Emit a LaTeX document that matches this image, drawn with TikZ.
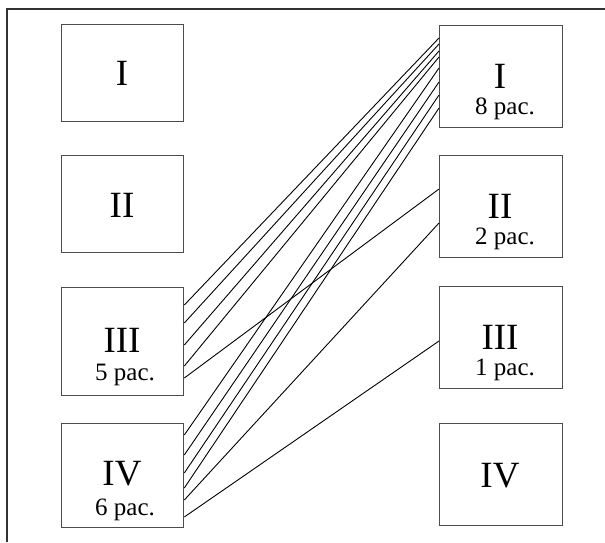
\documentclass[tikz,border=0pt]{standalone}
\usepackage{fontspec}
\setmainfont{Liberation Serif}
\begin{document}
\begin{tikzpicture}[x=1pt,y=-1pt,
  box/.style={draw=black!70,line width=1.3pt,inner sep=0pt,anchor=north west},
  num/.style={inner sep=0pt,anchor=base,font=\fontsize{37}{37}\selectfont},
  pac/.style={inner sep=0pt,anchor=base,font=\fontsize{25}{25}\selectfont},
  link/.style={draw=black,line width=0.9pt},
  frame/.style={draw=black!80,line width=1.4pt}]
\useasboundingbox (0,0) rectangle (605,542);
% frame
\coordinate (fa) at (7,542);
\coordinate (fb) at (7,9);
\coordinate (fc) at (605,9);
\draw[frame] (fa) -- (fb) -- (fc);
% left boxes
\node[box,minimum width=122pt,minimum height=97pt]  (L1) at (61,24) {};
\node[box,minimum width=122pt,minimum height=97pt]  (L2) at (61,155) {};
\node[box,minimum width=122pt,minimum height=108pt] (L3) at (61,287) {};
\node[box,minimum width=122pt,minimum height=104pt] (L4) at (61,423) {};
% right boxes
\node[box,minimum width=123pt,minimum height=102pt] (R1) at (439,25) {};
\node[box,minimum width=123pt,minimum height=102pt] (R2) at (439,155) {};
\node[box,minimum width=123pt,minimum height=102pt] (R3) at (439,286) {};
\node[box,minimum width=123pt,minimum height=102pt] (R4) at (439,423) {};
% texts
\node[num] (L1t) at (122,85) {I};
\node[num] (L2t) at (122,217) {II};
\node[num] (L3t) at (122,352) {III};
\node[pac] (L3p) at (125,380) {5 pac.};
\node[num] (L4t) at (122,485) {IV};
\node[pac] (L4p) at (125,515) {6 pac.};
\node[num] (R1t) at (500,88) {I};
\node[pac] (R1p) at (505,114) {8 pac.};
\node[num] (R2t) at (500,218) {II};
\node[pac] (R2p) at (505,244) {2 pac.};
\node[num] (R3t) at (500,349) {III};
\node[pac] (R3p) at (505,375) {1 pac.};
\node[num] (R4t) at (500,487) {IV};
% connectors III -> I
\draw[link] ([yshift=-18pt]L3.north east) -- ([yshift=-13pt]R1.north west);
\draw[link] ([yshift=-36pt]L3.north east) -- ([yshift=-19pt]R1.north west);
\draw[link] ([yshift=-58pt]L3.north east) -- ([yshift=-26pt]R1.north west);
\draw[link] ([yshift=-79pt]L3.north east) -- ([yshift=-32pt]R1.north west);
% III -> II
\draw[link] ([yshift=-91pt]L3.north east) -- ([yshift=-34pt]R2.north west);
% IV -> I
\draw[link] ([yshift=-12pt]L4.north east) -- ([yshift=-43pt]R1.north west);
\draw[link] ([yshift=-32pt]L4.north east) -- ([yshift=-57pt]R1.north west);
\draw[link] ([yshift=-50pt]L4.north east) -- ([yshift=-70pt]R1.north west);
\draw[link] ([yshift=-65pt]L4.north east) -- ([yshift=-83pt]R1.north west);
% IV -> II
\draw[link] ([yshift=-77pt]L4.north east) -- ([yshift=-68pt]R2.north west);
% IV -> III
\draw[link] ([yshift=-94pt]L4.north east) -- ([yshift=-55pt]R3.north west);
\end{tikzpicture}
\end{document}
